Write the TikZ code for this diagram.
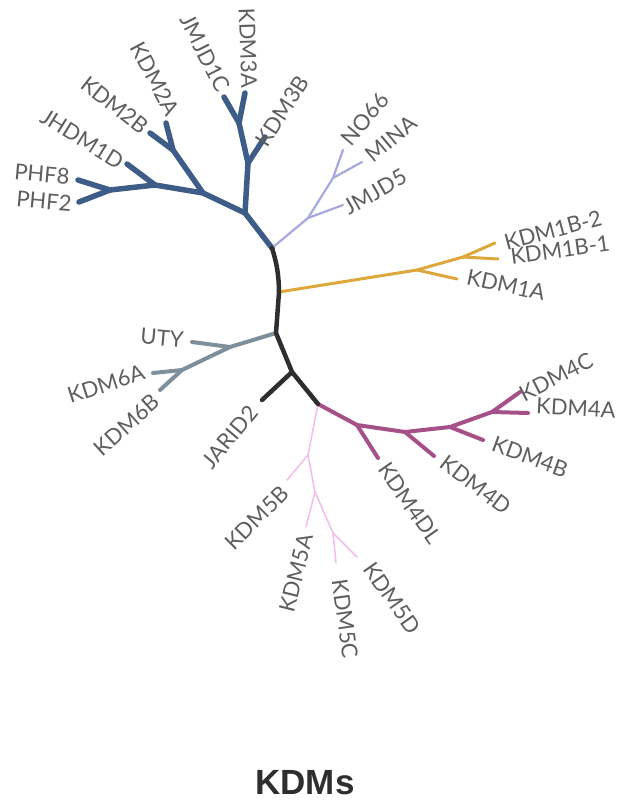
\documentclass[tikz,border=0pt]{standalone}
\usepackage{fontspec}
\setmainfont{Lato}
\newfontfamily\titlefont{Liberation Sans}
\usetikzlibrary{positioning}
\definecolor{kblue}{HTML}{3E5C88}
\definecolor{klav}{HTML}{A7A9DE}
\definecolor{kgold}{HTML}{DCA83C}
\definecolor{kdark}{HTML}{2E2E2E}
\definecolor{kgrey}{HTML}{7D8F9B}
\definecolor{kmag}{HTML}{A6508A}
\definecolor{kpink}{HTML}{F3BCEB}
\definecolor{ktext}{HTML}{5E5E5E}
\begin{document}
\begin{tikzpicture}[x=1pt,y=-1pt]
    \tikzset{lbl/.style={text=ktext, inner sep=0pt,
      font=\fontsize{22}{24}\selectfont},
      br/.style={line cap=round, line join=round}}
    \useasboundingbox (0,0) rectangle (617,802);
    % inner points of the tree
    \coordinate (r0) at (272,248);
    \coordinate (b1) at (245,213);
    \coordinate (b3) at (248,163);
    \coordinate (b4) at (239,123);
    \coordinate (b5) at (203,193);
    \coordinate (b6) at (173,150);
    \coordinate (b7) at (155,185);
    \coordinate (b8) at (110,190);
    \coordinate (l1) at (308,218);
    \coordinate (l2) at (333,178);
    \coordinate (k1) at (279,292);
    \coordinate (k2) at (276,333);
    \coordinate (k3) at (292,372);
    \coordinate (k4) at (318,404);
    \coordinate (o1) at (417,270);
    \coordinate (o2) at (463,257);
    \coordinate (g1) at (230,347);
    \coordinate (g2) at (182,370);
    \coordinate (m1) at (357,425);
    \coordinate (m2) at (405,432);
    \coordinate (m3) at (450,427);
    \coordinate (m4) at (492,412);
    \coordinate (p1) at (308,455);
    \coordinate (p2) at (315,492);
    \coordinate (p3) at (333,533);
    % leaf tips
    \coordinate (phf8t) at (78,180);
    \coordinate (phf2t) at (79,202);
    \coordinate (jhdm1dt) at (127,164);
    \coordinate (kdm2bt) at (150,133);
    \coordinate (kdm2at) at (166,123);
    \coordinate (jmjd1ct) at (224,97);
    \coordinate (kdm3at) at (245,93);
    \coordinate (kdm3bt) at (265,137);
    \coordinate (no66t) at (343,150);
    \coordinate (minat) at (362,162);
    \coordinate (jmjd5t) at (343,205);
    \coordinate (kdm1b2t) at (495,243);
    \coordinate (kdm1b1t) at (498,259);
    \coordinate (kdm1at) at (457,279);
    \coordinate (utyt) at (192,342);
    \coordinate (kdm6at) at (153,373);
    \coordinate (kdm6bt) at (160,390);
    \coordinate (jarid2t) at (262,400);
    \coordinate (kdm4ct) at (520,392);
    \coordinate (kdm4at) at (528,413);
    \coordinate (kdm4bt) at (483,440);
    \coordinate (kdm4dt) at (434,456);
    \coordinate (kdm4dlt) at (378,458);
    \coordinate (kdm5bt) at (287,480);
    \coordinate (kdm5at) at (306,527);
    \coordinate (kdm5ct) at (336,563);
    \coordinate (kdm5dt) at (357,557);
    % branches
    \draw[br, kblue, line width=5.5pt] (r0) -- (b1) -- (b3) -- (b4) -- (jmjd1ct);
    \draw[br, kblue, line width=5.5pt] (b4) -- (kdm3at);
    \draw[br, kblue, line width=5.5pt] (b3) -- (kdm3bt);
    \draw[br, kblue, line width=5.5pt] (b1) -- (b5) -- (b6) -- (kdm2at);
    \draw[br, kblue, line width=5.5pt] (b6) -- (kdm2bt);
    \draw[br, kblue, line width=5.5pt] (b5) -- (b7) -- (jhdm1dt);
    \draw[br, kblue, line width=5.5pt] (b7) -- (b8) -- (phf8t);
    \draw[br, kblue, line width=5.5pt] (b8) -- (phf2t);
    \draw[br, klav, line width=2.2pt] (r0) -- (l1) -- (jmjd5t);
    \draw[br, klav, line width=2.2pt] (l1) -- (l2) -- (no66t);
    \draw[br, klav, line width=2.2pt] (l2) -- (minat);
    \draw[br, kgold, line width=3pt] (k1) -- (o1) -- (kdm1at);
    \draw[br, kgold, line width=3pt] (o1) -- (o2) -- (kdm1b2t);
    \draw[br, kgold, line width=3pt] (o2) -- (kdm1b1t);
    \draw[br, kgrey, line width=4pt] (k2) -- (g1) -- (utyt);
    \draw[br, kgrey, line width=4pt] (g1) -- (g2) -- (kdm6at);
    \draw[br, kgrey, line width=4pt] (g2) -- (kdm6bt);
    \draw[br, kmag, line width=4pt] (k4) -- (m1) -- (kdm4dlt);
    \draw[br, kmag, line width=4pt] (m1) -- (m2) -- (kdm4dt);
    \draw[br, kmag, line width=4pt] (m2) -- (m3) -- (kdm4bt);
    \draw[br, kmag, line width=4pt] (m3) -- (m4) -- (kdm4ct);
    \draw[br, kmag, line width=4pt] (m4) -- (kdm4at);
    \draw[br, kpink, line width=1.5pt] (k4) -- (p1) -- (kdm5bt);
    \draw[br, kpink, line width=1.5pt] (p1) -- (p2) -- (kdm5at);
    \draw[br, kpink, line width=1.5pt] (p2) -- (p3) -- (kdm5ct);
    \draw[br, kpink, line width=1.5pt] (p3) -- (kdm5dt);
    \draw[br, kdark, line width=4.5pt] (r0) to[bend left=8] (k1) -- (k2) -- (k3) -- (k4);
    \draw[br, kdark, line width=4.5pt] (k3) -- (jarid2t);
    % labels
    \node[lbl, rotate=-5] (phf8) at (42,174) {PHF8};
    \node[lbl, rotate=-5] (phf2) at (44,201) {PHF2};
    \node[lbl, rotate=-32] (jhdm1d) at (82,139) {JHDM1D};
    \node[lbl, rotate=-38] (kdm2b) at (115,105) {KDM2B};
    \node[lbl, rotate=-62] (kdm2a) at (155,79) {KDM2A};
    \node[lbl, rotate=-63] (jmjd1c) at (205,53) {JMJD1C};
    \node[lbl, rotate=-88] (kdm3a) at (248,48) {KDM3A};
    \node[lbl, rotate=57] (kdm3b) at (282,111) {KDM3B};
    \node[lbl, rotate=50] (no66) at (365,119) {NO66};
    \node[lbl, rotate=40] (mina) at (391,139) {MINA};
    \node[lbl, rotate=30] (jmjd5) at (375,192) {JMJD5};
    \node[lbl, rotate=15] (kdm1b2) at (553,230) {KDM1B-2};
    \node[lbl, rotate=8] (kdm1b1) at (560,250) {KDM1B-1};
    \node[lbl, rotate=-12] (kdm1a) at (506,285) {KDM1A};
    \node[lbl, rotate=-5] (uty) at (162,338) {UTY};
    \node[lbl, rotate=18] (kdm6a) at (106,384) {KDM6A};
    \node[lbl, rotate=42] (kdm6b) at (127,425) {KDM6B};
    \node[lbl, rotate=50] (jarid2) at (230,437) {JARID2};
    \node[lbl, rotate=27] (kdm4c) at (556,377) {KDM4C};
    \node[lbl, rotate=-3] (kdm4a) at (576,408) {KDM4A};
    \node[lbl, rotate=-20] (kdm4b) at (530,457) {KDM4B};
    \node[lbl, rotate=-37] (kdm4d) at (476,485) {KDM4D};
    \node[lbl, rotate=-55] (kdm4dl) at (410,503) {KDM4DL};
    \node[lbl, rotate=45] (kdm5b) at (257,518) {KDM5B};
    \node[lbl, rotate=76] (kdm5a) at (296,573) {KDM5A};
    \node[lbl, rotate=-82] (kdm5c) at (345,619) {KDM5C};
    \node[lbl, rotate=-55] (kdm5d) at (392,598) {KDM5D};
    \node[text=kdark, inner sep=0pt, font=\titlefont\bfseries\fontsize{35}{38}\selectfont] (title) at (305,783) {KDMs};
\end{tikzpicture}
\end{document}
